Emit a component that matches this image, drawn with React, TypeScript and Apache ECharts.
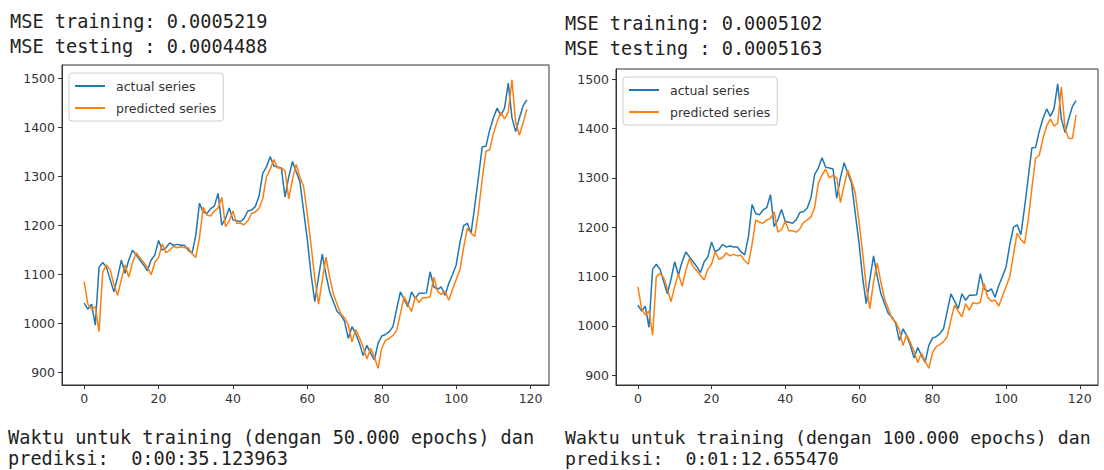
import React, { useEffect, useRef } from "react";
import * as echarts from "echarts";

const actualSeries: number[] = [
  1042, 1030, 1040, 997, 1115, 1125, 1115, 1090, 1065, 1095,
  1130, 1103, 1130, 1150, 1140, 1130, 1120, 1108, 1130, 1140,
  1170, 1150, 1155, 1165, 1160, 1162, 1160, 1160, 1150, 1144,
  1180, 1246, 1228, 1225, 1235, 1240, 1266, 1201, 1215, 1236,
  1212, 1210, 1208, 1215, 1230, 1232, 1239, 1260, 1307, 1320,
  1341, 1322, 1320, 1318, 1259, 1300, 1331, 1310, 1290, 1230,
  1171, 1100, 1045, 1095, 1142, 1100, 1065, 1045, 1025, 1018,
  1005, 970, 994, 980, 960, 935, 956, 940, 926, 960,
  975, 978, 984, 994, 1030, 1065, 1050, 1035, 1065, 1052,
  1062, 1062, 1063, 1106, 1075, 1070, 1075, 1058, 1082, 1100,
  1120, 1165, 1200, 1205, 1185, 1240, 1300, 1361, 1362, 1395,
  1420, 1440, 1425, 1440, 1491, 1420, 1392, 1420, 1445, 1457,
];

const predictedLeft: number[] = [
  1086, 1040, 1030, 1035, 984, 1105, 1120, 1110, 1080, 1058,
  1090, 1120, 1095, 1125, 1145, 1135, 1125, 1115, 1100, 1125,
  1135, 1163, 1145, 1150, 1158, 1155, 1157, 1155, 1155, 1143,
  1135, 1175, 1238, 1222, 1220, 1230, 1236, 1258, 1198, 1210,
  1230, 1205, 1205, 1202, 1210, 1225, 1228, 1235, 1255, 1300,
  1315, 1335, 1318, 1318, 1312, 1255, 1295, 1325, 1300, 1280,
  1222, 1160, 1092, 1040, 1088, 1136, 1095, 1060, 1040, 1020,
  1012, 998, 963, 988, 972, 952, 928, 950, 932, 909,
  950, 966, 970, 976, 986, 1020, 1055, 1040, 1025, 1055,
  1043, 1053, 1053, 1055, 1095, 1066, 1060, 1066, 1048, 1070,
  1090, 1110, 1155, 1195, 1185, 1178, 1230, 1295, 1352, 1355,
  1388, 1412, 1432, 1418, 1432, 1498, 1410, 1385, 1410, 1438,
];

const predictedRight: number[] = [
  1079, 1035, 1022, 1030, 981, 1100, 1106, 1098, 1075, 1049,
  1080, 1106, 1080, 1112, 1137, 1120, 1112, 1102, 1093, 1115,
  1125, 1150, 1135, 1138, 1148, 1142, 1145, 1142, 1143, 1132,
  1125, 1165, 1215, 1210, 1208, 1215, 1218, 1231, 1190, 1195,
  1212, 1193, 1193, 1190, 1197, 1210, 1215, 1221, 1240, 1290,
  1306, 1318, 1300, 1305, 1300, 1250, 1285, 1316, 1295, 1270,
  1215, 1150, 1080, 1035, 1090, 1127, 1088, 1055, 1035, 1015,
  1008, 992, 960, 982, 966, 948, 925, 945, 928, 914,
  945, 958, 962, 968, 978, 1012, 1042, 1030, 1018, 1045,
  1032, 1047, 1045, 1048, 1086, 1058, 1050, 1052, 1040, 1060,
  1080, 1100, 1145, 1188, 1175, 1167, 1215, 1280, 1340, 1346,
  1380, 1405, 1420, 1405, 1411, 1485, 1400, 1380, 1380, 1428,
];

const xTicks: number[] = [0, 20, 40, 60, 80, 100, 120];
const yTicks: number[] = [900, 1000, 1100, 1200, 1300, 1400, 1500];
const legendNames: string[] = ["actual series", "predicted series"];

const leftTexts: string[] = ["MSE training: 0.0005219", "MSE testing : 0.0004488"];
const rightTexts: string[] = ["MSE training: 0.0005102", "MSE testing : 0.0005163"];
const leftBottom: string[] = [
  "Waktu untuk training (dengan 50.000 epochs) dan",
  "prediksi:  0:00:35.123963",
];
const rightBottom: string[] = [
  "Waktu untuk training (dengan 100.000 epochs) dan",
  "prediksi:  0:01:12.655470",
];

const BLUE = "#1f77b4";
const ORANGE = "#ff7f0e";
const AX = "#333";

function makeXAxis(gridIndex: number) {
  return {
    type: "value",
    gridIndex,
    min: -5.95,
    max: 124.95,
    axisLine: { show: true, onZero: false, lineStyle: { color: AX, width: 1 } },
    axisTick: { show: true, length: 4, customValues: xTicks, lineStyle: { color: AX } },
    axisLabel: {
      customValues: xTicks,
      color: AX,
      fontSize: 12.5,
      fontFamily: "DejaVu Sans",
      margin: 7,
      formatter: (v: number) => String(v),
    },
    splitLine: { show: false },
  };
}

function makeYAxis(gridIndex: number, min: number, max: number) {
  return {
    type: "value",
    gridIndex,
    min,
    max,
    axisLine: { show: true, onZero: false, lineStyle: { color: AX, width: 1 } },
    axisTick: { show: true, length: 4, customValues: yTicks, lineStyle: { color: AX } },
    axisLabel: {
      customValues: yTicks,
      color: AX,
      fontSize: 12.5,
      fontFamily: "DejaVu Sans",
      margin: 7,
      formatter: (v: number) => String(v),
    },
    splitLine: { show: false },
  };
}

function makeLegend(left: number, top: number) {
  return {
    left,
    top,
    orient: "vertical",
    data: legendNames,
    icon: "rect",
    itemWidth: 30,
    itemHeight: 2,
    itemGap: 8,
    padding: [6, 7, 6, 6],
    backgroundColor: "rgba(255,255,255,0.8)",
    borderColor: "#cccccc",
    borderWidth: 1,
    borderRadius: 3,
    selectedMode: false,
    textStyle: {
      color: AX,
      fontSize: 12.5,
      fontFamily: "DejaVu Sans",
      lineHeight: 14,
      padding: [0, 0, 0, 6],
    },
  };
}

function textEl(text: string, x: number, y: number, size: number) {
  return {
    type: "text",
    x,
    y,
    style: {
      text,
      font: `${size}px "DejaVu Sans Mono"`,
      fill: "#222",
      textAlign: "left",
      textVerticalAlign: "middle",
      verticalAlign: "middle",
    },
  };
}

function toPairs(arr: number[]) {
  return arr.map((v, i) => [i, v]);
}

export default function App() {
  const ref = useRef<HTMLDivElement>(null);
  useEffect(() => {
    if (!ref.current) return;
    const chart = echarts.init(ref.current, undefined, { renderer: "svg" });
    chart.setOption({
      animation: false,
      backgroundColor: "#ffffff",
      grid: [
        { left: 62, top: 65, width: 487, height: 320, show: true, borderColor: AX, borderWidth: 1, backgroundColor: "transparent" },
        { left: 616, top: 69, width: 482, height: 316, show: true, borderColor: AX, borderWidth: 1, backgroundColor: "transparent" },
      ],
      xAxis: [makeXAxis(0), makeXAxis(1)],
      yAxis: [makeYAxis(0, 875, 1528), makeYAxis(1, 880, 1521)],
      legend: [makeLegend(69, 73), makeLegend(623, 77)],
      series: [
        { name: legendNames[0], type: "line", xAxisIndex: 0, yAxisIndex: 0, data: toPairs(actualSeries), showSymbol: false, symbol: "none", color: BLUE, lineStyle: { color: BLUE, width: 1.5 } },
        { name: legendNames[1], type: "line", xAxisIndex: 0, yAxisIndex: 0, data: toPairs(predictedLeft), showSymbol: false, symbol: "none", color: ORANGE, lineStyle: { color: ORANGE, width: 1.5 } },
        { name: legendNames[0], type: "line", xAxisIndex: 1, yAxisIndex: 1, data: toPairs(actualSeries), showSymbol: false, symbol: "none", color: BLUE, lineStyle: { color: BLUE, width: 1.5 } },
        { name: legendNames[1], type: "line", xAxisIndex: 1, yAxisIndex: 1, data: toPairs(predictedRight), showSymbol: false, symbol: "none", color: ORANGE, lineStyle: { color: ORANGE, width: 1.5 } },
      ],
      graphic: [
        textEl(leftTexts[0], 10, 21, 18.6),
        textEl(leftTexts[1], 10, 46, 18.6),
        textEl(rightTexts[0], 565, 23, 18.6),
        textEl(rightTexts[1], 565, 48, 18.6),
        textEl(leftBottom[0], 8, 437, 18.6),
        textEl(leftBottom[1], 8, 458, 18.6),
        textEl(rightBottom[0], 565, 437, 18.2),
        textEl(rightBottom[1], 565, 458, 18.2),
      ],
    });
    return () => chart.dispose();
  }, []);
  return (
    <div
      ref={ref}
      style={{ position: "fixed", left: 0, top: 0, width: 1104, height: 470, background: "#fff" }}
    />
  );
}
